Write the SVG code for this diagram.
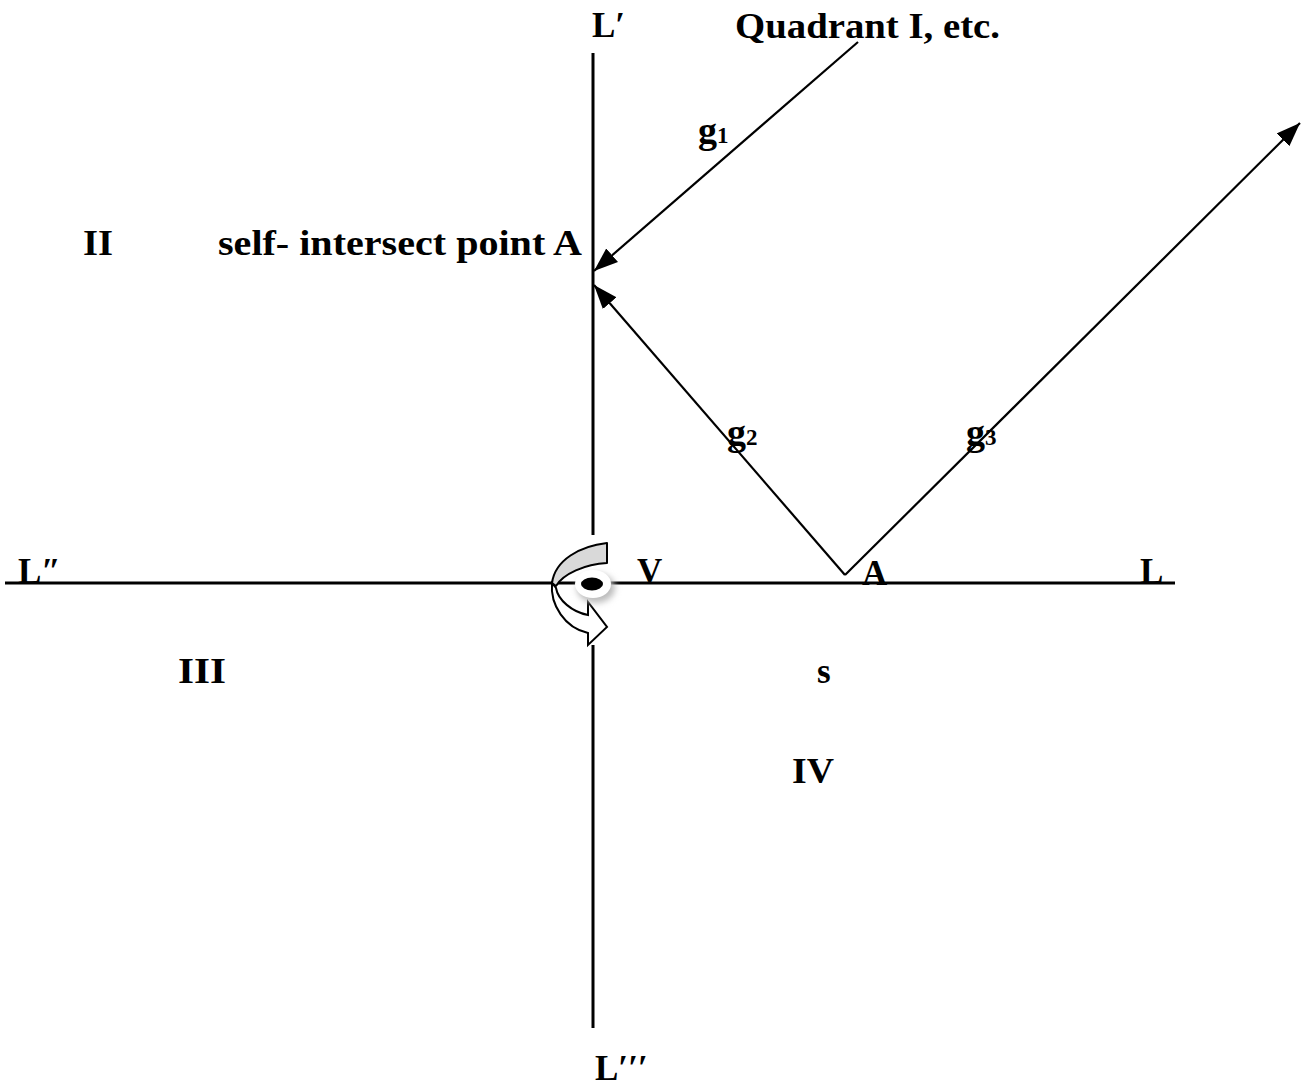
<svg xmlns="http://www.w3.org/2000/svg" width="1306" height="1089" viewBox="0 0 1306 1089">
<style>
  .t { font-family: "Liberation Serif", "DejaVu Serif", serif; font-weight: bold; font-size: 35px; fill: #000; }
  .g { font-size: 38px; }
  .sub { font-size: 23px; }
  .axis { stroke: #000; stroke-width: 3; fill: none; }
  .ray { stroke: #000; stroke-width: 2.2; fill: none; }
</style>
<defs>
  <marker id="ahb" viewBox="0 0 24 18" refX="24" refY="9" markerWidth="24" markerHeight="18" markerUnits="userSpaceOnUse" orient="auto">
    <path d="M0,0 L24,9 L0,18 Z" fill="#000"/>
  </marker>
  <filter id="glow" x="-50%" y="-50%" width="200%" height="200%">
    <feGaussianBlur stdDeviation="3"/>
  </filter>
</defs>

<g id="connectors">
  <line id="axis-h" class="axis" x1="5" y1="583" x2="1175" y2="583"/>
  <line id="axis-v-top" class="axis" x1="593" y1="53" x2="593" y2="535"/>
  <line id="axis-v-bottom" class="axis" x1="593" y1="645" x2="593" y2="1028"/>
  <line id="g1-line" class="ray" x1="858" y1="42" x2="594" y2="271" marker-end="url(#ahb)"/>
  <line id="g2-line" class="ray" x1="845" y1="575" x2="594" y2="285" marker-end="url(#ahb)"/>
  <line id="g3-line" class="ray" x1="845" y1="575" x2="1300" y2="123" marker-end="url(#ahb)"/>
</g>

<g id="rotation-icon">
  <path d="M607,543 C580,546 555,560 552,583 L556,586 C563,574 585,564 607,563 Z" fill="#d9d9d9" stroke="#000" stroke-width="2" stroke-linejoin="round"/>
  <path d="M552,583 C550,605 565,628 588,633 L588,645 L607,627 L588,602 L588,615 C572,612 558,600 556,588 Z" fill="#fff" stroke="#000" stroke-width="2" stroke-linejoin="miter"/>
  <ellipse cx="596" cy="588" rx="19" ry="15" fill="#bbb" filter="url(#glow)"/>
  <ellipse cx="593" cy="584" rx="18" ry="14" fill="#fff"/>
  <ellipse cx="592" cy="584" rx="11" ry="6.5" fill="#000"/>
</g>

<g id="label-Lprime"><text class="t" x="592" y="37">L′</text></g>
<g id="label-quadrant"><text class="t" x="735" y="38" textLength="265" lengthAdjust="spacingAndGlyphs">Quadrant I, etc.</text></g>
<g id="label-II"><text class="t" x="83" y="255" textLength="30" lengthAdjust="spacingAndGlyphs">II</text></g>
<g id="label-self"><text class="t" x="218" y="255" textLength="364" lengthAdjust="spacingAndGlyphs">self- intersect point A</text></g>
<g id="label-g1"><text class="t g" x="698" y="143">g<tspan class="sub">1</tspan></text></g>
<g id="label-g2"><text class="t g" x="727" y="445">g<tspan class="sub">2</tspan></text></g>
<g id="label-g3"><text class="t g" x="966" y="445">g<tspan class="sub">3</tspan></text></g>
<g id="label-L2"><text class="t" x="18" y="583">L″</text></g>
<g id="label-V"><text class="t" x="637" y="583">V</text></g>
<g id="label-A"><text class="t" x="862" y="585">A</text></g>
<g id="label-L"><text class="t" x="1140" y="583">L</text></g>
<g id="label-III"><text class="t" x="178" y="683" textLength="48" lengthAdjust="spacingAndGlyphs">III</text></g>
<g id="label-s"><text class="t" x="817" y="683">s</text></g>
<g id="label-IV"><text class="t" x="792" y="783" textLength="42" lengthAdjust="spacingAndGlyphs">IV</text></g>
<g id="label-L3"><text class="t" x="595" y="1080">L′′′</text></g>
</svg>
